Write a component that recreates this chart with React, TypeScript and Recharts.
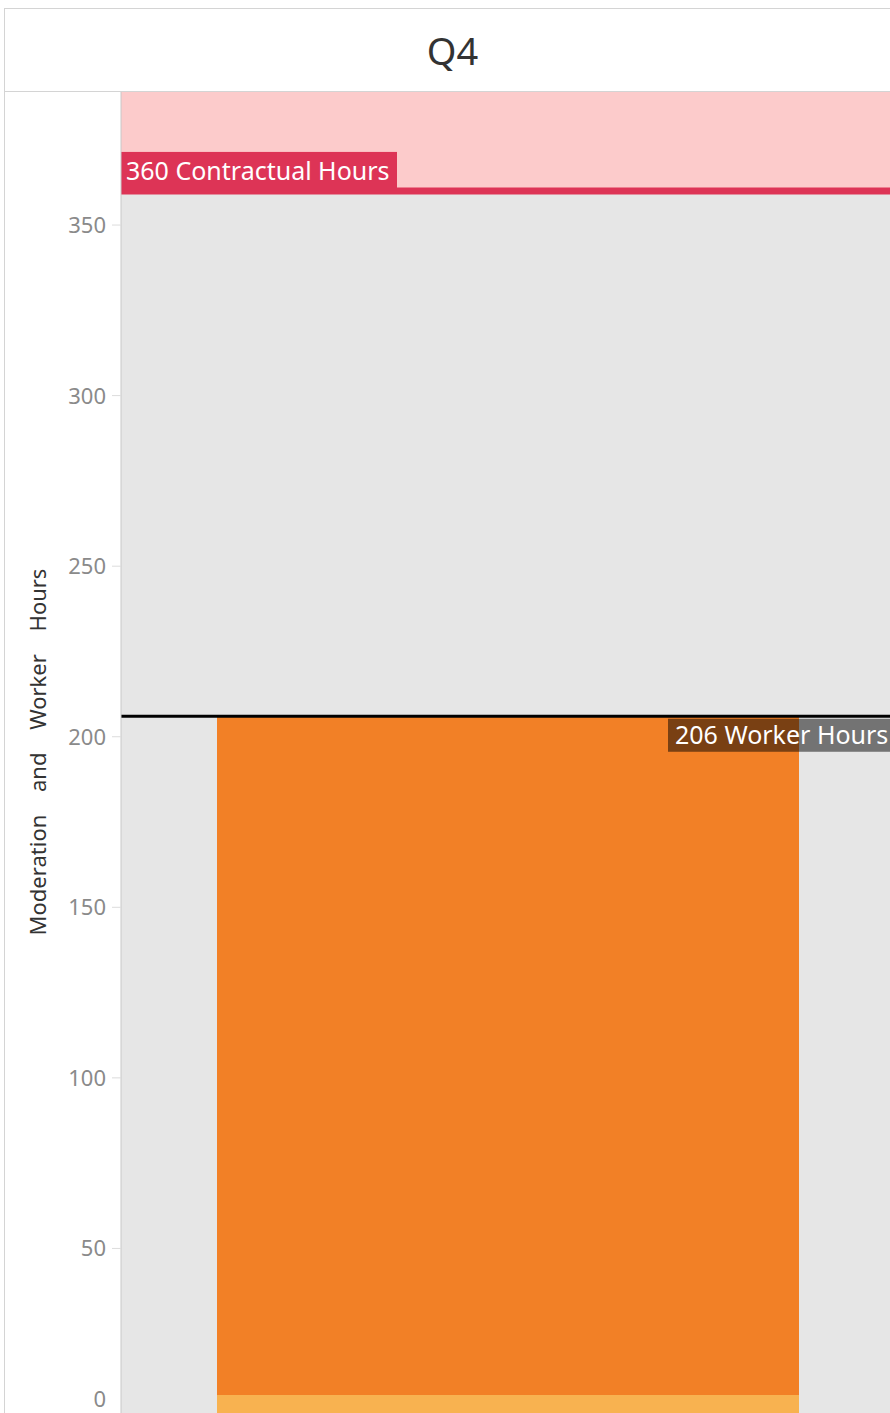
import React from "react";
import { BarChart, Bar, XAxis, YAxis, CartesianGrid, ReferenceArea, ReferenceLine } from "recharts";

const quarters = ["Q4"];
const moderationHours = [7];
const workerBarHours = [199];
const contractualHours = 360;
const workerHours = 206;
const yTicks = [0, 50, 100, 150, 200, 250, 300, 350];
const yMax = 389;

const data = quarters.map((q, i) => ({
  quarter: q,
  moderation: moderationHours[i],
  worker: workerBarHours[i],
}));

const FONT = "'Noto Sans', 'Open Sans', sans-serif";

function YTick(props: any) {
  const { x, y, payload } = props;
  // tableau nudges the bottom label up so it stays inside the pane
  const ty = payload.value === 0 ? y - 20 : y;
  return (
    <text x={x} y={ty} dy="0.36em" textAnchor="end" fill="#8a8a8a" fontSize={22} fontFamily={FONT}>
      {payload.value}
    </text>
  );
}

function ContractLabel(props: any) {
  const { viewBox } = props;
  if (!viewBox) return null;
  const { x, y } = viewBox;
  return (
    <g>
      <rect x={x} y={y - 39} width={276} height={39} fill="#dd3456" />
      <text x={x + 5} y={y - 11} fill="#ffffff" fontSize={25} fontFamily={FONT}>
        {contractualHours} Contractual Hours
      </text>
    </g>
  );
}

function WorkerLabel(props: any) {
  const { viewBox } = props;
  if (!viewBox) return null;
  const { x, y, width } = viewBox;
  const left = x + width - 227;
  return (
    <g>
      <rect x={left} y={y + 2.5} width={227} height={33} fill="#000000" fillOpacity={0.5} />
      <text x={left + 7} y={y + 28} fill="#ffffff" fontSize={25} fontFamily={FONT}>
        {workerHours} Worker Hours
      </text>
    </g>
  );
}

function AxisTitle() {
  return (
    <text
      x={37}
      y={752}
      transform="rotate(-90 37 752)"
      textAnchor="middle"
      dominantBaseline="central"
      fill="#333333"
      fontSize={22}
      fontFamily={FONT}
      style={{ wordSpacing: "17px" }}
    >
      Moderation and Worker Hours
    </text>
  );
}

export default function App() {
  return (
    <div
      style={{
        position: "absolute",
        left: 0,
        top: 0,
        width: 890,
        height: 1413,
        overflow: "hidden",
        background: "#ffffff",
        fontFamily: FONT,
      }}
    >
      <div
        style={{
          position: "absolute",
          left: 4,
          top: 8,
          width: 895,
          height: 82,
          border: "1px solid #d4d4d4",
          display: "flex",
          alignItems: "center",
          justifyContent: "center",
          fontSize: 38,
          color: "#333333",
        }}
      >
        Q4
      </div>
      <div
        style={{
          position: "absolute",
          left: 4,
          top: 91,
          width: 0,
          height: 1330,
          borderLeft: "1px solid #d4d4d4",
        }}
      />
      <div style={{ position: "absolute", left: 0, top: 0 }}>
        <BarChart
          width={895}
          height={1420}
          data={data}
          margin={{ top: 92, right: 0, bottom: 1, left: 4 }}
        >
          <CartesianGrid fill="#e6e6e6" horizontal={false} vertical={false} />
          <ReferenceArea y1={contractualHours} y2={yMax} fill="#fccbcb" fillOpacity={1} stroke="none" ifOverflow="hidden" />
          <XAxis dataKey="quarter" hide />
          <YAxis
            width={117}
            domain={[0, yMax]}
            ticks={yTicks}
            interval={0}
            tick={<YTick />}
            tickSize={9}
            tickMargin={6}
            tickLine={{ stroke: "#dcdcdc" }}
            axisLine={{ stroke: "#c8c8c8" }}
            label={<AxisTitle />}
          />
          <Bar dataKey="moderation" stackId="h" fill="#f8b250" barSize={582} isAnimationActive={false} />
          <Bar dataKey="worker" stackId="h" fill="#f28026" barSize={582} isAnimationActive={false} />
          <ReferenceLine y={contractualHours} stroke="#dd3456" strokeWidth={7} label={<ContractLabel />} />
          <ReferenceLine y={workerHours} stroke="#000000" strokeWidth={3} label={<WorkerLabel />} />
        </BarChart>
      </div>
    </div>
  );
}
